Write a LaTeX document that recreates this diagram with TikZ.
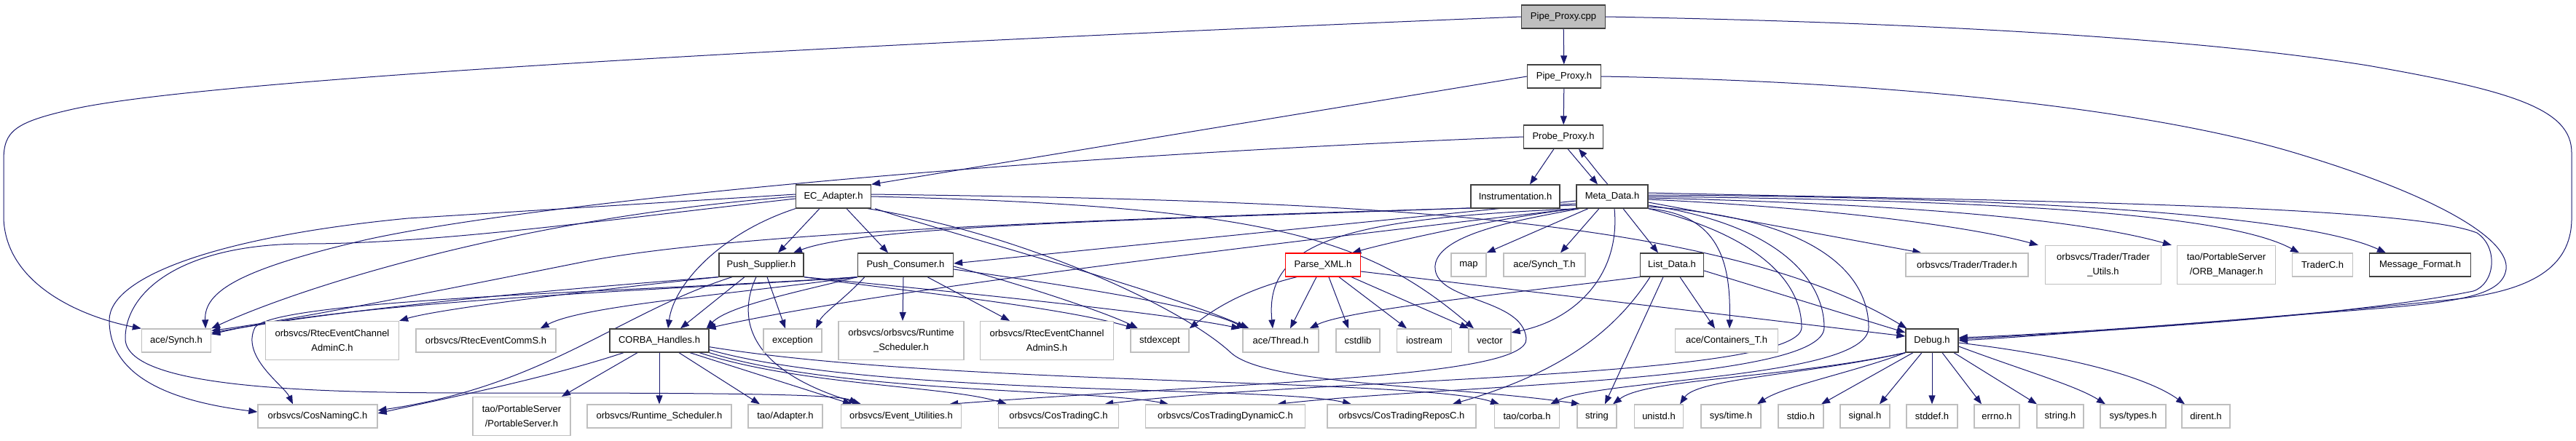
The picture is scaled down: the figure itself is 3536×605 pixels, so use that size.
\documentclass[tikz,border=0pt]{standalone}
\usepackage{fontspec}
\setmainfont{Liberation Sans}
\usetikzlibrary{arrows.meta}
\pgfdeclarelayer{bg}
\pgfsetlayers{bg,main}
\definecolor{extgray}{HTML}{BFBFBF}
\definecolor{docgray}{HTML}{404040}
\definecolor{edgeblue}{HTML}{191970}
\definecolor{rootfill}{HTML}{BFBFBF}
\tikzset{
 box/.style={draw, line width=1.3pt, inner sep=0pt, minimum height=32pt, align=center, anchor=center, fill=white},
 ext/.style={box, draw=extgray},
 doc/.style={box, draw=docgray},
 redbox/.style={box, draw=red},
 two/.style={minimum height=53pt},
 e/.style={draw=edgeblue, line width=1pt, -{Triangle[length=12pt,width=9pt]}},
}
\begin{document}
\begin{tikzpicture}[x=1pt,y=-1pt,font=\fontsize{13pt}{20pt}\selectfont]
\begin{pgfonlayer}{bg}
\path[use as bounding box, fill=white] (0,0) rectangle (3536,605);
\end{pgfonlayer}

% ---------- nodes ----------
\node[doc, fill=rootfill, minimum width=115] (cpp) at (2146,23) {Pipe\_Proxy.cpp};
\node[doc, minimum width=101] (pph) at (2147,105) {Pipe\_Proxy.h};
\node[doc, minimum width=109] (prb) at (2146,188) {Probe\_Proxy.h};
\node[doc, minimum width=122] (ins) at (2080,270) {Instrumentation.h};
\node[doc, minimum width=98] (meta) at (2213,270) {Meta\_Data.h};
\node[doc, minimum width=103] (eca) at (1144,270) {EC\_Adapter.h};

\node[doc, minimum width=116] (psup) at (1045,364) {Push\_Supplier.h};
\node[doc, minimum width=131] (pcon) at (1243,364) {Push\_Consumer.h};
\node[redbox, minimum width=103] (parse) at (1816,364) {Parse\_XML.h};
\node[ext, minimum width=48] (map) at (2016,364) {map};
\node[ext, minimum width=112] (syncht) at (2120,364) {ace/Synch\_T.h};
\node[doc, minimum width=87] (list) at (2295,364) {List\_Data.h};
\node[ext, minimum width=168] (trader) at (2700,364) {orbsvcs/Trader/Trader.h};
\node[ext, two, minimum width=159] (trutil) at (2887,364) {orbsvcs/Trader/Trader\\\_Utils.h};
\node[ext, two, minimum width=135] (orbm) at (3056,364) {tao/PortableServer\\/ORB\_Manager.h};
\node[ext, minimum width=83] (traderc) at (3188,364) {TraderC.h};
\node[doc, minimum width=139] (msgf) at (3322,364) {Message\_Format.h};

\node[ext, minimum width=95] (synch) at (242,468) {ace/Synch.h};
\node[ext, two, minimum width=183] (rcadminc) at (456,468) {orbsvcs/RtecEventChannel\\AdminC.h};
\node[ext, minimum width=192] (rccomms) at (667,468) {orbsvcs/RtecEventCommS.h};
\node[doc, minimum width=136] (corba) at (905,468) {CORBA\_Handles.h};
\node[ext, minimum width=80] (exception) at (1088,468) {exception};
\node[ext, two, minimum width=172] (rtsched2) at (1237,468) {orbsvcs/orbsvcs/Runtime\\\_Scheduler.h};
\node[ext, two, minimum width=183] (rcadmins) at (1437,468) {orbsvcs/RtecEventChannel\\AdminS.h};
\node[ext, minimum width=80] (stdexcept) at (1592,468) {stdexcept};
\node[ext, minimum width=104] (thread) at (1758,468) {ace/Thread.h};
\node[ext, minimum width=60] (cstdlib) at (1864,468) {cstdlib};
\node[ext, minimum width=75] (iostream) at (1955,468) {iostream};
\node[ext, minimum width=58] (vector) at (2045,468) {vector};
\node[ext, minimum width=141] (contT) at (2370,468) {ace/Containers\_T.h};
\node[doc, minimum width=72] (debug) at (2652,468) {Debug.h};

\node[ext, minimum width=164] (cosnaming) at (436,572) {orbsvcs/CosNamingC.h};
\node[ext, two, minimum width=134] (pserver) at (716,572) {tao/PortableServer\\/PortableServer.h};
\node[ext, minimum width=198] (rtsched) at (905,572) {orbsvcs/Runtime\_Scheduler.h};
\node[ext, minimum width=102] (adapter) at (1078,572) {tao/Adapter.h};
\node[ext, minimum width=165] (evutil) at (1237,572) {orbsvcs/Event\_Utilities.h};
\node[ext, minimum width=165] (costc) at (1453,572) {orbsvcs/CosTradingC.h};
\node[ext, minimum width=219] (costdyn) at (1682,572) {orbsvcs/CosTradingDynamicC.h};
\node[ext, minimum width=204] (costrep) at (1924,572) {orbsvcs/CosTradingReposC.h};
\node[ext, minimum width=89] (taocorba) at (2096,572) {tao/corba.h};
\node[ext, minimum width=54] (string) at (2192,572) {string};
\node[ext, minimum width=67] (unistd) at (2277,572) {unistd.h};
\node[ext, minimum width=82] (systime) at (2376,572) {sys/time.h};
\node[ext, minimum width=62] (stdio) at (2472,572) {stdio.h};
\node[ext, minimum width=68] (signal) at (2560,572) {signal.h};
\node[ext, minimum width=70] (stddef) at (2652,572) {stddef.h};
\node[ext, minimum width=62] (errno) at (2741,572) {errno.h};
\node[ext, minimum width=64] (stringh) at (2828,572) {string.h};
\node[ext, minimum width=90] (systypes) at (2928,572) {sys/types.h};
\node[ext, minimum width=66] (dirent) at (3028,572) {dirent.h};

% ---------- edges (behind the boxes) ----------
\begin{pgfonlayer}{bg}
% Pipe_Proxy.cpp
\draw[e] (cpp) -- (pph);
\draw[e] (cpp.west) .. controls (1300,55) and (300,105) .. (100,150) .. controls (20,168) and (5,180) .. (5,220) -- (5,300) .. controls (8,390) and (110,435) .. (synch.north west);
\draw[e] (cpp.east) .. controls (2600,30) and (3000,50) .. (3250,90) .. controls (3450,125) and (3530,150) .. (3530,210) -- (3530,300) .. controls (3530,370) and (3470,398) .. (3380,410) .. controls (3150,435) and (2850,458) .. ([yshift=4pt]debug.east);
% Pipe_Proxy.h
\draw[e] (pph) -- (prb);
\draw[e] (pph.west) -- (eca.north east);
\draw[e] (pph.east) .. controls (2600,112) and (2950,150) .. (3150,210) .. controls (3350,270) and (3445,330) .. (3440,370) .. controls (3435,405) and (3380,415) .. (3250,425) .. controls (3000,445) and (2800,462) .. (debug.east);
% Probe_Proxy.h
\draw[e] ([xshift=-13pt]prb.south) -- ([xshift=20pt]ins.north);
\draw[e] ([xshift=6pt]prb.south) -- ([xshift=-20pt]meta.north);
\draw[e] ([xshift=-6pt]meta.north) .. controls (2195,240) and (2180,220) .. ([xshift=21pt]prb.south);
\draw[e] (prb.west) .. controls (1300,220) and (700,285) .. (500,330) .. controls (330,370) and (280,400) .. ([xshift=-8pt]synch.north east);
% EC_Adapter.h
\draw[e] ([xshift=-19pt]eca.south) -- ([xshift=23pt]psup.north);
\draw[e] ([xshift=18pt]eca.south) -- ([xshift=-24pt]pcon.north);
\draw[e] (eca.south west) .. controls (990,320) and (925,390) .. ([xshift=12pt]corba.north);
\draw[e] (eca.west) .. controls (700,300) and (400,400) .. (synch.north east);
\draw[e] ([yshift=3pt]eca.west) -- (560,300) .. controls (300,325) and (150,380) .. (150,440) .. controls (150,520) and (240,552) .. ([yshift=6pt]cosnaming.west);
\draw[e] ([yshift=-3pt]eca.west) .. controls (850,300) and (600,335) .. (420,335) .. controls (250,335) and (172,400) .. (172,465) .. controls (172,530) and (400,540) .. (650,540) .. controls (900,540) and (1150,540) .. ([xshift=-60pt]evutil.north);
\draw[e] ([xshift=5pt]eca.south east) .. controls (1300,320) and (1600,400) .. ([xshift=9pt]thread.north west);
\draw[e] (eca.east) .. controls (1750,283) and (1880,330) .. ([xshift=-22pt]vector.north);
\draw[e] ([yshift=3pt]eca.east) .. controls (1800,275) and (2350,290) .. ([xshift=2pt]debug.north west);
\draw[e] ([xshift=-5pt]eca.south east) .. controls (1400,320) and (1620,420) .. (1690,485) .. controls (1740,530) and (2000,530) .. ([xshift=-23pt]string.north);
% Meta_Data.h
\draw[e] (meta.south west) .. controls (2050,300) and (1900,335) .. ([xshift=-12pt]parse.north east);
\draw[e] ([xshift=-33pt]meta.south) -- (map.north east);
\draw[e] ([xshift=-18pt]meta.south) -- ([xshift=22pt]syncht.north);
\draw[e] ([xshift=15pt]meta.south) -- ([xshift=-19pt]list.north);
\draw[e] ([xshift=3pt]meta.south) .. controls (2225,380) and (2160,440) .. ([yshift=11pt]vector.east);
\draw[e] (meta.south east) .. controls (2360,295) and (2376,360) .. ([xshift=4pt]contT.north);
\draw[e] ([yshift=5pt]meta.east) .. controls (2700,275) and (3300,280) .. (3400,320) .. controls (3430,340) and (3425,390) .. (3395,400) .. controls (3250,430) and (2950,452) .. ([yshift=2pt]debug.east);
\draw[e] ([yshift=-8pt]meta.east) -- ([xshift=22pt]trader.north west);
\draw[e] ([yshift=-4pt]meta.east) .. controls (2500,285) and (2700,310) .. ([xshift=-9pt]trutil.north west);
\draw[e] ([yshift=-2pt]meta.east) .. controls (2600,280) and (2850,300) .. ([xshift=-7pt]orbm.north west);
\draw[e] (meta.east) .. controls (2700,275) and (3050,290) .. ([xshift=-32pt]traderc.north);
\draw[e] ([yshift=2pt]meta.east) .. controls (2700,270) and (3150,290) .. ([xshift=-47pt]msgf.north);
\draw[e] ([yshift=-6pt]meta.west) -- ([yshift=2pt]pcon.east);
\draw[e] ([yshift=-10pt]meta.west) .. controls (1700,300) and (1200,305) .. ([xshift=44pt]psup.north);
\draw[e] (meta.south west) .. controls (1700,340) and (1200,400) .. ([xshift=-3pt]corba.north east);
\draw[e] ([yshift=-12pt]meta.west) .. controls (1500,300) and (1000,320) .. (800,360) .. controls (600,400) and (400,440) .. ([yshift=-3pt]synch.north east);
\draw[e] (meta.200) .. controls (1850,300) and (1735,330) .. ([xshift=-11pt]thread.north);
\draw[e] ([xshift=-45pt]meta.south) .. controls (2100,300) and (1965,320) .. (1970,370) .. controls (1975,415) and (2090,410) .. (2095,465) .. controls (2100,520) and (1700,525) .. ([xshift=-17pt]evutil.north east);
\draw[e] (meta.south east) .. controls (2400,320) and (2473,380) .. (2473,450) .. controls (2473,520) and (1800,520) .. ([xshift=-20pt]costc.north east);
\draw[e] ([yshift=-12pt]meta.east) .. controls (2450,310) and (2504,390) .. (2504,450) .. controls (2504,525) and (2000,528) .. ([xshift=-39pt]costdyn.north east);
\draw[e] ([yshift=-14pt]meta.east) .. controls (2500,300) and (2565,380) .. (2565,450) .. controls (2565,520) and (2200,520) .. ([xshift=-13pt]taocorba.north east);
% Push_Supplier.h
\draw[e] (psup.south west) .. controls (800,395) and (500,420) .. ([yshift=-6pt]synch.north east);
\draw[e] (psup.south west) .. controls (800,400) and (600,425) .. (rcadminc.north east);
\draw[e] ([xshift=-23pt]psup.south) -- ([xshift=29pt]corba.north);
\draw[e] ([xshift=8pt]psup.south) -- ([xshift=-10pt]exception.north);
\draw[e] ([xshift=-7pt]psup.south) .. controls (1010,440) and (1030,510) .. ([xshift=-55pt]evutil.north);
\draw[e] (psup.south east) .. controls (1200,395) and (1450,420) .. ([xshift=-34pt]stdexcept.north);
\draw[e] (psup.south east) .. controls (1300,400) and (1600,430) .. ([xshift=-3pt]thread.north west);
\draw[e] ([xshift=-40pt]psup.south) .. controls (850,430) and (750,530) .. ([yshift=8pt]cosnaming.east);
% Push_Consumer.h
\draw[e] ([xshift=-3pt]pcon.south) -- ([xshift=2pt]rtsched2.north);
\draw[e] ([xshift=30pt]pcon.south) -- ([xshift=-51pt]rcadmins.north);
\draw[e] ([yshift=-2pt]pcon.east) .. controls (1400,390) and (1520,430) .. ([xshift=-30pt]stdexcept.north);
\draw[e] ([yshift=-6pt]pcon.east) .. controls (1450,390) and (1650,420) .. ([xshift=4pt]thread.north west);
\draw[e] (pcon.south west) .. controls (1100,400) and (1000,420) .. ([xshift=-4pt]corba.north east);
\draw[e] ([xshift=10pt]pcon.south west) .. controls (1160,410) and (1130,430) .. ([xshift=32pt]exception.north);
\draw[e] (pcon.south west) .. controls (1000,405) and (800,420) .. ([xshift=-22pt]rccomms.north east);
\draw[e] (pcon.south west) .. controls (1000,395) and (500,410) .. ([yshift=-8pt]synch.north east);
\draw[e] (pcon.south west) .. controls (900,400) and (380,410) .. (350,450) .. controls (330,490) and (390,530) .. ([xshift=-34pt]cosnaming.north);
% Parse_XML.h
\draw[e] ([xshift=-9pt]parse.south) -- ([xshift=13pt]thread.north);
\draw[e] ([xshift=8pt]parse.south) -- ([xshift=-13pt]cstdlib.north);
\draw[e] ([xshift=22pt]parse.south) -- ([xshift=-24pt]iostream.north);
\draw[e] ([xshift=39pt]parse.south) -- ([xshift=-29pt]vector.north);
\draw[e] ([xshift=-36pt]parse.south) .. controls (1700,400) and (1660,430) .. (stdexcept.north east);
\draw[e] ([yshift=-9pt]parse.east) -- ([yshift=6pt]debug.west);
% List_Data.h
\draw[e] (list.south west) .. controls (2100,400) and (1850,425) .. ([xshift=-13pt]thread.north east);
\draw[e] ([xshift=11pt]list.south) -- ([xshift=-16pt]contT.north);
\draw[e] ([xshift=-12pt]list.south) -- ([xshift=11pt]string.north);
\draw[e] ([xshift=-30pt]list.south) .. controls (2220,450) and (2150,510) .. ([xshift=-33pt]costrep.north east);
\draw[e] ([yshift=-8pt]list.east) -- ([yshift=11pt]debug.west);
% CORBA_Handles.h
\draw[e] ([xshift=-30pt]corba.south) -- ([xshift=55pt]pserver.north);
\draw[e] (corba.south) -- (rtsched.north);
\draw[e] ([xshift=27pt]corba.south) -- ([xshift=-35pt]adapter.north);
\draw[e] ([xshift=-49pt]corba.south) .. controls (750,520) and (600,550) .. ([yshift=4pt]cosnaming.east);
\draw[e] ([xshift=42pt]corba.south) -- ([xshift=-68pt]evutil.north);
\draw[e] ([xshift=55pt]corba.south) .. controls (1100,530) and (1300,530) .. ([xshift=-71pt]costc.north);
\draw[e] (corba.south east) .. controls (1150,540) and (1500,535) .. ([xshift=-78pt]costdyn.north);
\draw[e] ([yshift=4pt]corba.south east) .. controls (1200,545) and (1750,530) .. ([xshift=-69pt]costrep.north);
\draw[e] ([yshift=8pt]corba.south east) .. controls (1300,530) and (1950,520) .. ([xshift=-38pt]taocorba.north);
% Debug.h
\draw[e] (debug.south west) .. controls (2550,510) and (2450,530) .. ([xshift=36pt]systime.north);
\draw[e] ([xshift=-26pt]debug.south) -- ([xshift=28pt]stdio.north);
\draw[e] ([xshift=-14pt]debug.south) -- ([xshift=20pt]signal.north);
\draw[e] (debug.south) -- (stddef.north);
\draw[e] ([xshift=14pt]debug.south) -- ([xshift=-21pt]errno.north);
\draw[e] ([xshift=30pt]debug.south) -- ([xshift=-32pt]stringh.north);
\draw[e] ([yshift=-8pt]debug.east) .. controls (2780,510) and (2850,530) .. ([xshift=-38pt]systypes.north);
\draw[e] ([yshift=-3pt]debug.east) .. controls (2850,490) and (2950,520) .. ([xshift=-29pt]dirent.north);
\draw[e] (debug.south west) .. controls (2450,520) and (2260,520) .. ([xshift=22pt]string.north);
\draw[e] (debug.south west) .. controls (2480,515) and (2330,520) .. ([xshift=29pt]unistd.north);
\end{pgfonlayer}
\end{tikzpicture}
\end{document}
